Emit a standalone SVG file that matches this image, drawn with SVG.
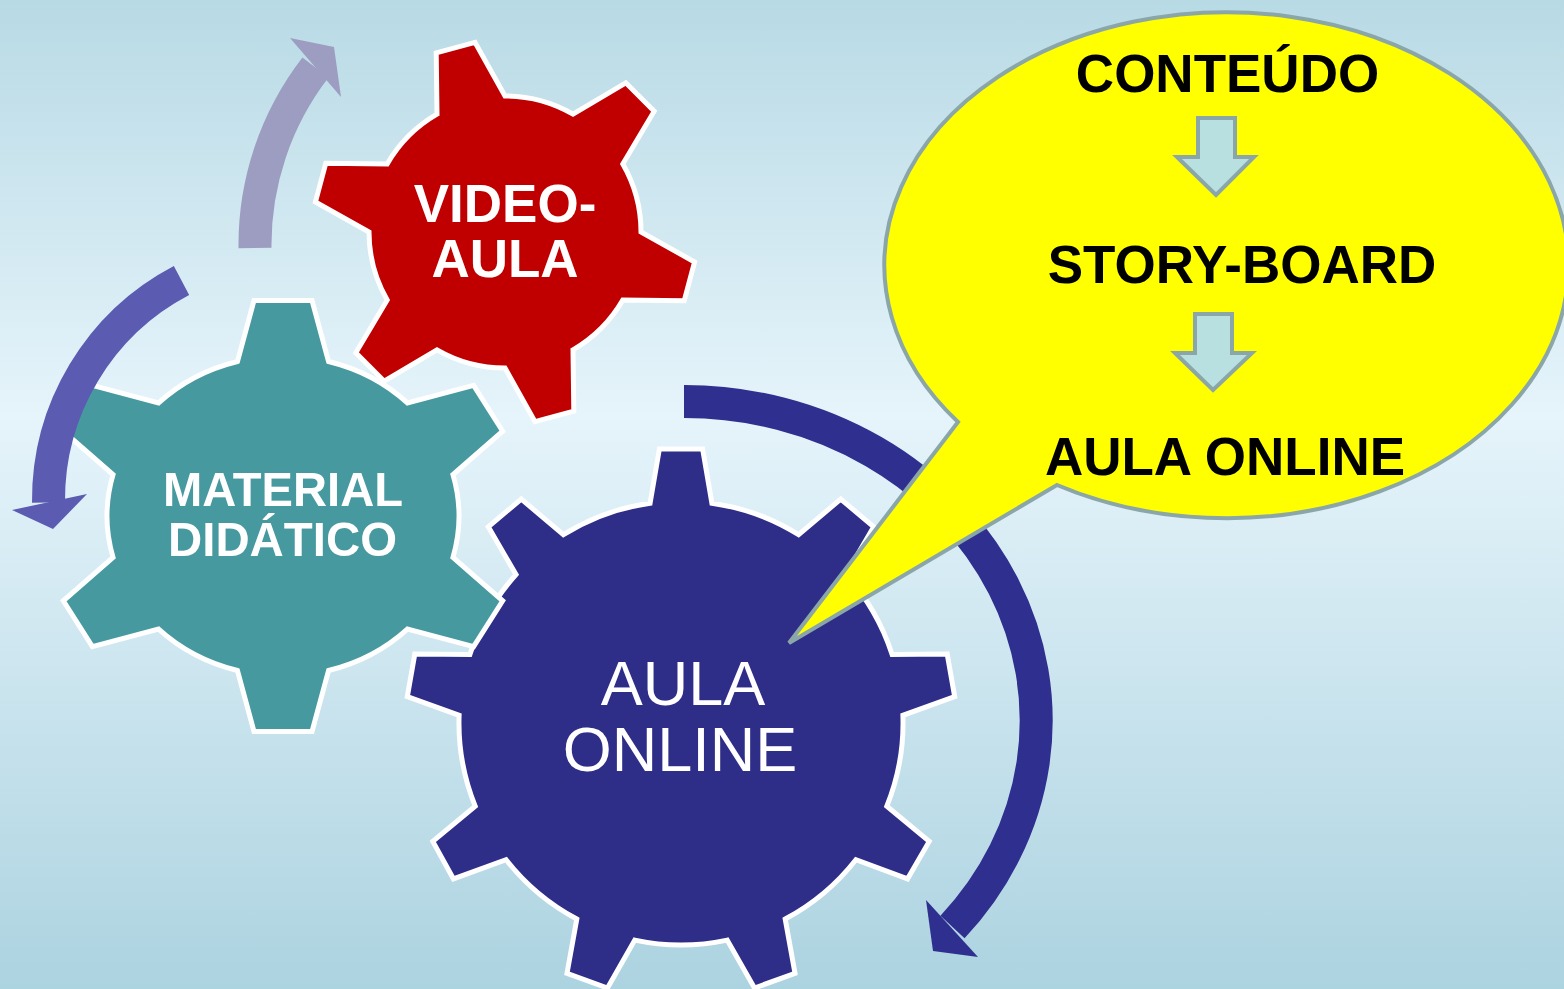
<svg xmlns="http://www.w3.org/2000/svg" width="1564" height="989" viewBox="0 0 1564 989">
<defs>
<linearGradient id="bg" x1="0" y1="0" x2="0" y2="1">
<stop offset="0" stop-color="#b8dae5"/>
<stop offset="0.42" stop-color="#e6f4fb"/>
<stop offset="1" stop-color="#acd3e0"/>
</linearGradient>
<style>
.gear{stroke:#ffffff;stroke-width:5;stroke-linejoin:miter}
.arc{fill:none;stroke-width:33;stroke-linecap:butt}
.wb{font-family:"Liberation Sans",Arial,sans-serif;font-weight:bold;fill:#ffffff;text-anchor:middle}
.wr{font-family:"Liberation Sans",Arial,sans-serif;fill:#ffffff;text-anchor:middle}
.bk{font-family:"Liberation Sans",Arial,sans-serif;font-weight:bold;fill:#000000;text-anchor:middle;font-size:53px}
.down{fill:#b9e0e1;stroke:#8aa6a8;stroke-width:4;stroke-linejoin:miter}
</style>
</defs>
<rect x="0" y="0" width="1564" height="989" fill="url(#bg)"/>

<g id="connectors">
<g id="arc-top">
<path class="arc" stroke="#9d9dc1" d="M255,248 A290,290 0 0 1 315.5,67.5"/>
<polygon fill="#9d9dc1" points="290,38 334,47 341,97"/>
</g>
<g id="arc-right">
<path class="arc" stroke="#2f2f8f" d="M684,401.5 A352,319 0 0 1 952.5,927"/>
<polygon fill="#2f2f8f" points="926,900 933,951 978,957"/>
</g>
</g>

<g id="gear-aula-online">
<path class="gear" fill="#2e2d87" d="M650.1,503.2 L659.4,448.9 L702.6,448.9 L711.9,503.2 A222,222 0 0 1 798.6,534.7 L840.7,499.1 L873.7,526.8 L846,574.5 A222,222 0 0 1 892.1,654.4 L947.2,654.1 L954.7,696.7 L902.9,715.3 A222,222 0 0 1 886.8,806.2 L929.2,841.4 L907.6,878.8 L855.9,859.7 A222,222 0 0 1 785.2,919 L795,973.3 L754.5,988 L727.2,940.1 A222,222 0 0 1 634.8,940.1 L607.5,988 L567,973.3 L576.8,919 A222,222 0 0 1 506.1,859.7 L453.4,878.8 L432.8,841.4 L475.2,806.2 A222,222 0 0 1 459.1,715.3 L407.3,696.7 L414.8,654.1 L469.9,654.4 A222,222 0 0 1 516,574.5 L488.3,526.8 L521.3,499.1 L563.4,534.7 A222,222 0 0 1 650.1,503.2 Z"/>
<text class="wr" font-size="63" x="683" y="705">AULA</text>
<text class="wr" font-size="63" x="680" y="771">ONLINE</text>
</g>

<g id="gear-material">
<path class="gear" fill="#4799a0" vector-effect="non-scaling-stroke" transform="translate(283,516) scale(1.1,1)" d="M-41.4,-154.5 L-26.4,-215.4 L26.4,-215.4 L41.4,-154.5 A160,160 0 0 1 113.1,-113.1 L173.3,-130.6 L199.7,-84.8 L154.5,-41.4 A160,160 0 0 1 154.5,41.4 L199.7,84.8 L173.3,130.6 L113.1,113.1 A160,160 0 0 1 41.4,154.5 L26.4,215.4 L-26.4,215.4 L-41.4,154.5 A160,160 0 0 1 -113.1,113.1 L-173.3,130.6 L-199.7,84.8 L-154.5,41.4 A160,160 0 0 1 -154.5,-41.4 L-199.7,-84.8 L-173.3,-130.6 L-113.1,-113.1 A160,160 0 0 1 -41.4,-154.5 Z"/>
<text class="wb" font-size="49" x="283" y="506" textLength="240" lengthAdjust="spacingAndGlyphs">MATERIAL</text>
<text class="wb" font-size="49" x="282.5" y="556" textLength="229" lengthAdjust="spacingAndGlyphs">DIDÁTICO</text>
</g>

<g id="arc-left">
<path class="arc" stroke="#5b5bb1" d="M181.5,280.5 A248,248 0 0 0 48.5,502.5"/>
<polygon fill="#5b5bb1" points="12,510 53,529 87,494"/>
</g>

<g id="gear-video-aula">
<path class="gear" fill="#c00000" d="M437,114.2 L436.2,52.8 L475,42.4 L505,96 A136,136 0 0 1 573,114.2 L625.8,82.8 L654.2,111.2 L622.8,164 A136,136 0 0 1 641,232 L694.6,262 L684.2,300.8 L622.8,300 A136,136 0 0 1 573,349.8 L573.8,411.2 L535,421.6 L505,368 A136,136 0 0 1 437,349.8 L384.2,381.2 L355.8,352.8 L387.2,300 A136,136 0 0 1 369,232 L315.4,202 L325.8,163.2 L387.2,164 A136,136 0 0 1 437,114.2 Z"/>
<text class="wb" font-size="53" x="505" y="222">VIDEO-</text>
<text class="wb" font-size="53" x="505" y="277">AULA</text>
</g>

<g id="bubble">
<path fill="#ffff00" stroke="#8aa6a8" stroke-width="4" stroke-linejoin="miter" d="M958,422 L789,643 L1057,485 A342,253 0 1 0 958,422 Z"/>
<text class="bk" x="1227.5" y="92">CONTEÚDO</text>
<polygon class="down" points="1198,118 1235,118 1235,157 1254,157 1216,195 1177,157 1198,157"/>
<text class="bk" x="1242" y="283">STORY-BOARD</text>
<polygon class="down" points="1195,314 1232,314 1232,353 1252,353 1213,390 1175,353 1195,353"/>
<text class="bk" x="1225" y="475">AULA ONLINE</text>
</g>
</svg>
